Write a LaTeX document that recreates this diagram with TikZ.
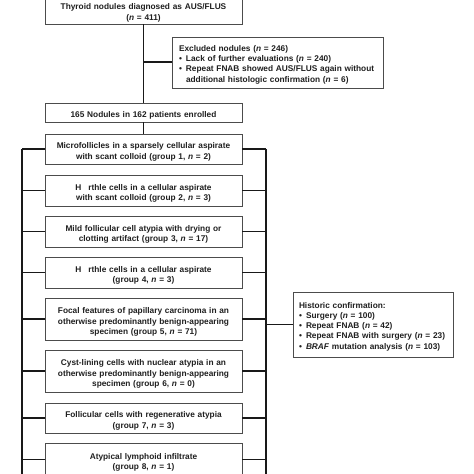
\documentclass[tikz,border=0pt]{standalone}
\usepackage{fontspec}
\setmainfont{Liberation Sans}
\begin{document}
\begin{tikzpicture}[x=1pt,y=-1pt,
  box/.style={draw=black!70, line width=0.8pt, fill=white, inner sep=0pt, align=center, text width=195pt, minimum width=197pt,
    font=\bfseries\fontsize{8.3}{10.3}\selectfont, text=black!88, execute at begin node={\rule{0pt}{12pt}}},
  sidebox/.style={draw=black!70, line width=0.8pt, fill=white, inner sep=0pt, align=left,
    font=\bfseries\fontsize{8.3}{10.3}\selectfont, text=black!88, execute at begin node={\rule{0pt}{10pt}}},
  link/.style={draw=black!90, line width=1.3pt}]
\useasboundingbox (0,0) rectangle (474,474);
\newcommand{\bul}{\makebox[7pt][l]{\textbullet}}
% boxes
\node[box, minimum height=28pt] (top) at (143.5,10) {Thyroid nodules diagnosed as AUS/FLUS\\(\textit{n} = 411)};
\node[sidebox, minimum width=211pt, minimum height=51pt, text width=197pt] (excl) at (277.5,62.5)
  {Excluded nodules (\textit{n} = 246)\\
   \bul Lack of further evaluations (\textit{n} = 240)\\
   \bul Repeat FNAB showed AUS/FLUS again without\\
   \hspace*{7pt}additional histologic confirmation (\textit{n} = 6)};
\node[box, minimum height=19pt] (enr) at (143.5,112.5) {165 Nodules in 162 patients enrolled};
\node[box, minimum height=30pt] (g1) at (143.5,149) {Microfollicles in a sparsely cellular aspirate\\with scant colloid (group 1, \textit{n} = 2)};
\node[box, minimum height=31pt] (g2) at (143.5,190.5) {H\hspace{7pt}rthle cells in a cellular aspirate\\with scant colloid (group 2, \textit{n} = 3)};
\node[box, minimum height=31pt] (g3) at (143.5,231.5) {Mild follicular cell atypia with drying or\\clotting artifact (group 3, \textit{n} = 17)};
\node[box, minimum height=31pt] (g4) at (143.5,272.5) {H\hspace{7pt}rthle cells in a cellular aspirate\\(group 4, \textit{n} = 3)};
\node[box, minimum height=42pt] (g5) at (143.5,319) {Focal features of papillary carcinoma in an\\otherwise predominantly benign-appearing\\specimen (group 5, \textit{n} = 71)};
\node[box, minimum height=42pt] (g6) at (143.5,371) {Cyst-lining cells with nuclear atypia in an\\otherwise predominantly benign-appearing\\specimen (group 6, \textit{n} = 0)};
\node[box, minimum height=30pt] (g7) at (143.5,418) {Follicular cells with regenerative atypia\\(group 7, \textit{n} = 3)};
\node[box, minimum height=33pt] (g8) at (143.5,459.5) {Atypical lymphoid infiltrate\\(group 8, \textit{n} = 1)};
\node[sidebox, minimum width=160pt, minimum height=65pt, text width=148pt] (hist) at (373,324.5)
  {Historic confirmation:\\
   \bul Surgery (\textit{n} = 100)\\
   \bul Repeat FNAB (\textit{n} = 42)\\
   \bul Repeat FNAB with surgery (\textit{n} = 23)\\
   \bul \textit{BRAF} mutation analysis (\textit{n} = 103)};
% connectors
\coordinate (lt) at (22,149);
\coordinate (lb) at (22,480);
\coordinate (rt) at (266,149);
\coordinate (rb) at (266,480);
\coordinate (br) at (143.5,62);
\draw[link] (top.south) -- (enr.north);
\draw[link] (br) -- (excl.west |- br);
\draw[link] (enr.south) -- (g1.north);
\draw[link] (lt) -- (lb);
\draw[link] (rt) -- (rb);
\foreach \g in {g1,g2,g3,g4,g5,g6,g7,g8}{
  \draw[link] (\g.west) -- (lt |- \g.west);
  \draw[link] (\g.east) -- (rt |- \g.east);
}
\draw[link] (rt |- hist.west) -- (hist.west);
\end{tikzpicture}
\end{document}
